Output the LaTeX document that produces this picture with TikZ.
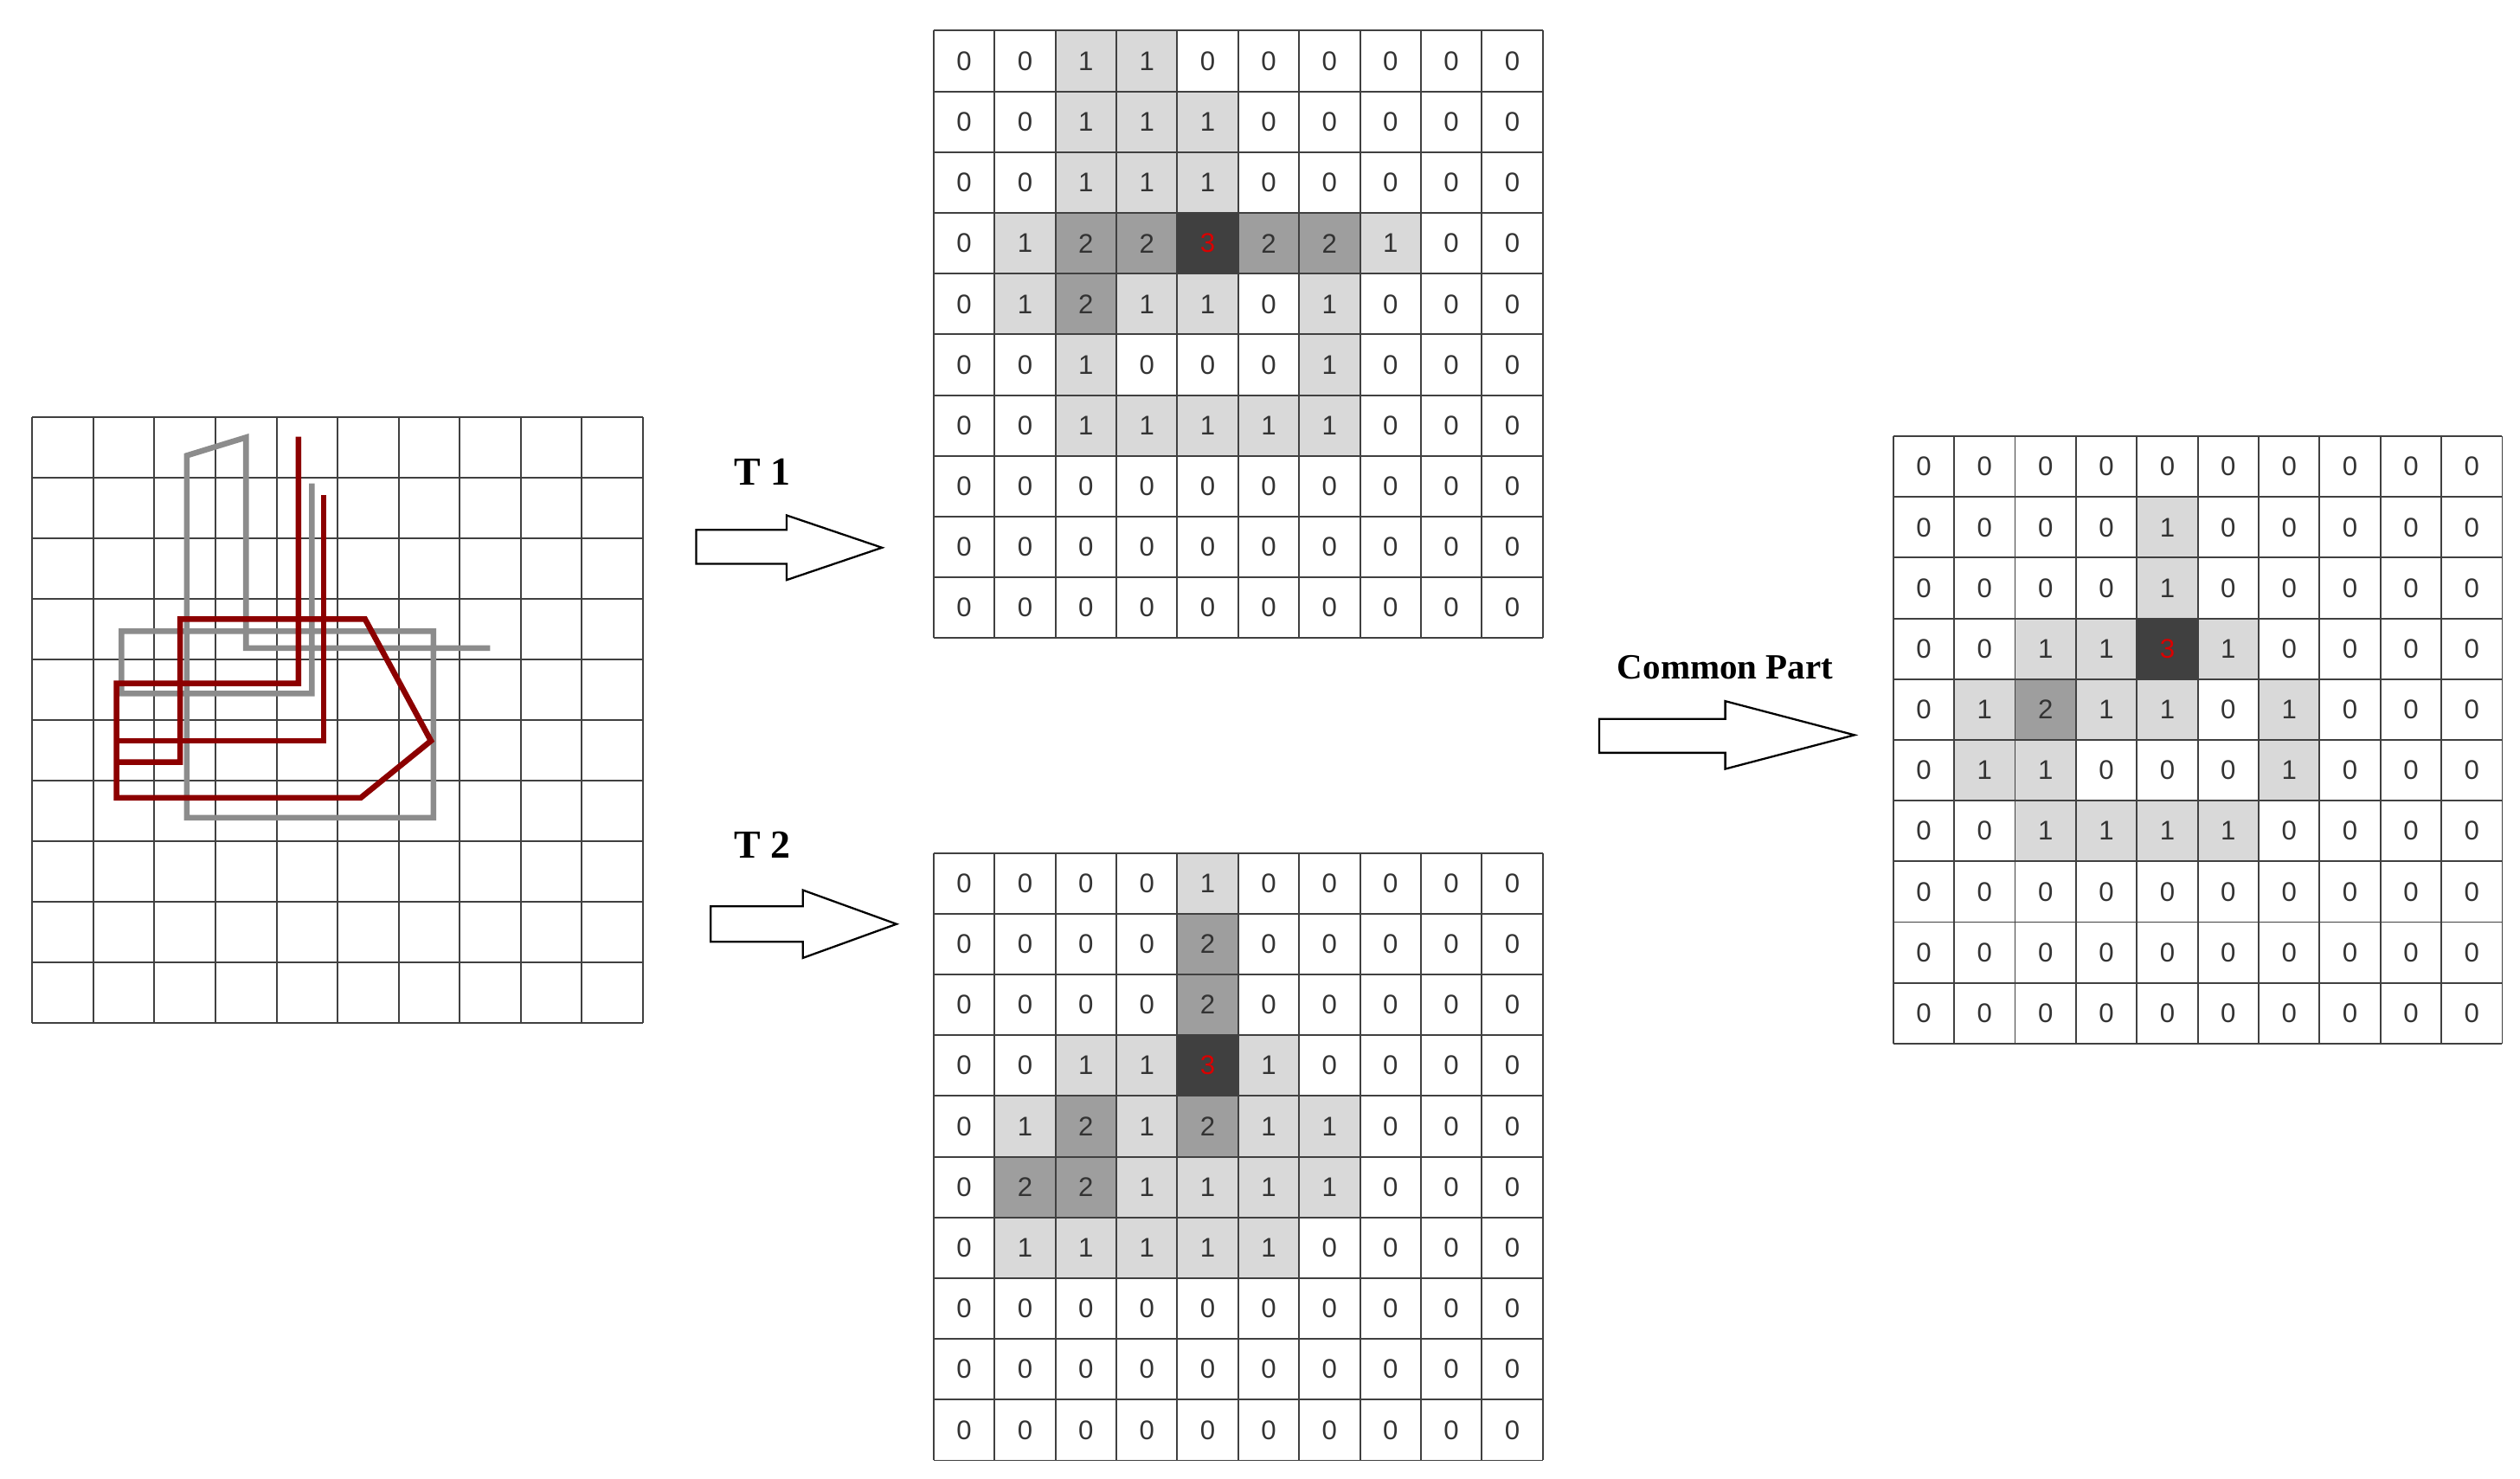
\documentclass[tikz,border=0pt]{standalone}
\usepackage{fontspec}
\setmainfont{Liberation Serif}
\newfontfamily\numf{Liberation Sans}
\begin{document}
\begin{tikzpicture}[x=0.02cm,y=-0.02cm,
  gl/.style={black!75,line width=0.6pt},
  c0/.style={fill=white}, c1/.style={fill=black!15}, c2/.style={fill=black!38}, c3/.style={fill=black!75},
  n0/.style={text=black!80}, n1/.style={text=black!80}, n2/.style={text=black!80}, n3/.style={text=red!85!black},
  num/.style={font=\numf\fontsize{9.5}{11}\selectfont},
  lab/.style={font=\bfseries\fontsize{14}{16}\selectfont},
  arr/.style={draw=black,line width=0.7pt,fill=white},
  gpath/.style={draw=black!45,line width=2pt,line join=miter},
  rpath/.style={draw=red!55!black,line width=2pt,line join=miter}]
\useasboundingbox (0,0) rectangle (1560,915.5);
% matrix drawing macro
\def\mymatrix#1#2#3#4{%
 \foreach \row [count=\r from 0] in {#4}{
  \foreach \v [count=\c from 0] in \row {
   \path[c\v] (#1+\c*37.7,#2+\r*37.6) rectangle ++(37.7,37.6);
   \node[num,n\v] (#3-\r-\c) at (#1+\c*37.7+18.85,#2+\r*37.6+18.8) {\v};
  }}
 \foreach \i in {0,...,10}{
  \draw[gl] (#1+\i*37.7,#2) -- (#1+\i*37.7,#2+376);
  \draw[gl] (#1,#2+\i*37.6) -- (#1+377,#2+\i*37.6);}
}
% left grid
\foreach \i in {0,...,10}{
  \draw[gl] (20+\i*37.8,258) -- (20+\i*37.8,633);
  \draw[gl] (20,258+\i*37.5) -- (398,258+\i*37.5);}
\begin{scope}[shift={(20,258)},x=0.756cm,y=-0.75cm]
\draw[gpath] (7.5,3.82)--(3.5,3.82)--(3.5,0.34)--(2.53,0.64)--(2.53,6.62)--(6.57,6.62)--(6.57,3.54)--(1.46,3.54)--(1.46,4.57)--(4.58,4.57)--(4.58,1.1);
\draw[rpath] (4.36,0.33)--(4.36,4.4)--(1.38,4.4)--(1.38,6.29)--(5.38,6.29)--(6.53,5.35)--(5.45,3.34)--(2.42,3.34)--(2.42,5.7)--(1.38,5.7);
\draw[rpath] (1.38,5.35)--(4.77,5.35)--(4.77,1.29);
\end{scope}
% matrices
\mymatrix{578}{19}{A}{{0,0,1,1,0,0,0,0,0,0},{0,0,1,1,1,0,0,0,0,0},{0,0,1,1,1,0,0,0,0,0},{0,1,2,2,3,2,2,1,0,0},{0,1,2,1,1,0,1,0,0,0},{0,0,1,0,0,0,1,0,0,0},{0,0,1,1,1,1,1,0,0,0},{0,0,0,0,0,0,0,0,0,0},{0,0,0,0,0,0,0,0,0,0},{0,0,0,0,0,0,0,0,0,0}}
\mymatrix{578}{528}{B}{{0,0,0,0,1,0,0,0,0,0},{0,0,0,0,2,0,0,0,0,0},{0,0,0,0,2,0,0,0,0,0},{0,0,1,1,3,1,0,0,0,0},{0,1,2,1,2,1,1,0,0,0},{0,2,2,1,1,1,1,0,0,0},{0,1,1,1,1,1,0,0,0,0},{0,0,0,0,0,0,0,0,0,0},{0,0,0,0,0,0,0,0,0,0},{0,0,0,0,0,0,0,0,0,0}}
\mymatrix{1172}{270}{C}{{0,0,0,0,0,0,0,0,0,0},{0,0,0,0,1,0,0,0,0,0},{0,0,0,0,1,0,0,0,0,0},{0,0,1,1,3,1,0,0,0,0},{0,1,2,1,1,0,1,0,0,0},{0,1,1,0,0,0,1,0,0,0},{0,0,1,1,1,1,0,0,0,0},{0,0,0,0,0,0,0,0,0,0},{0,0,0,0,0,0,0,0,0,0},{0,0,0,0,0,0,0,0,0,0}}
% arrows
\draw[arr] (431,328)--(487,328)--(487,319)--(546,339)--(487,359)--(487,349)--(431,349)--cycle;
\draw[arr] (440,561)--(497,561)--(497,551)--(555,572)--(497,593)--(497,583)--(440,583)--cycle;
\draw[arr] (990,445)--(1068,445)--(1068,434)--(1148,455)--(1068,476)--(1068,466)--(990,466)--cycle;
\node[lab] (t1) at (472,292) {T 1};
\node[lab] (t2) at (472,523) {T 2};
\node[lab,font=\bfseries\fontsize{12.5}{14}\selectfont] (cp) at (1068,413) {Common Part};
\end{tikzpicture}
\end{document}
